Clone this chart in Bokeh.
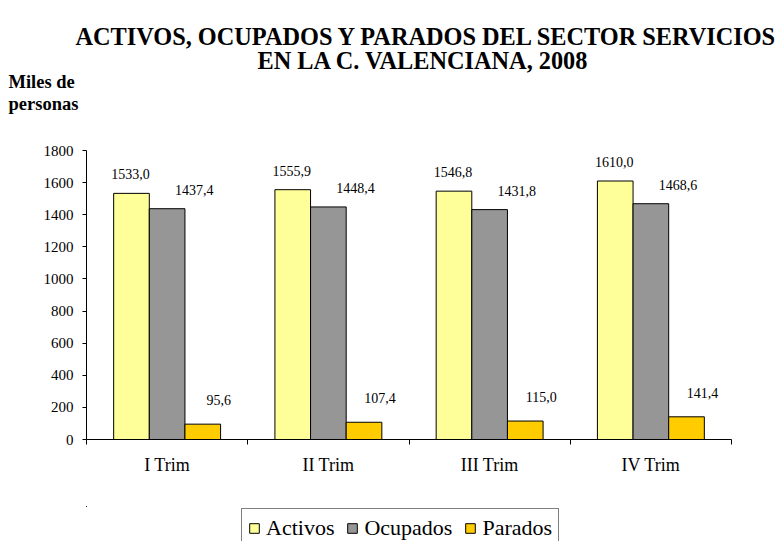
from bokeh.plotting import figure
from bokeh.layouts import column
from bokeh.models import (ColumnDataSource, Range1d, FixedTicker, Legend, LegendItem, Title)
from bokeh.transform import dodge
from bokeh.core.properties import value
from bokeh.embed import file_html
from bokeh.resources import INLINE

categories = ["I Trim", "II Trim", "III Trim", "IV Trim"]
activos = [1533.0, 1555.9, 1546.8, 1610.0]
ocupados = [1437.4, 1448.4, 1431.8, 1468.6]
parados = [95.6, 107.4, 115.0, 141.4]
series_names = ["Activos", "Ocupados", "Parados"]
y_ticks = [0, 200, 400, 600, 800, 1000, 1200, 1400, 1600, 1800]
title_lines = ["ACTIVOS, OCUPADOS Y PARADOS DEL SECTOR  SERVICIOS", "EN LA C. VALENCIANA, 2008"]
unit_lines = ["Miles de", "personas"]

FONT = "Liberation Serif"
colors = ["#FFFF99", "#969696", "#FFCC00"]
W = 780
H_HEAD, H_MAIN, H_LEG = 120, 386, 35
BL, BR = 86, 49

def fmt(v):
    return f"{v:.1f}".replace(".", ",")

def blank_fig(h, x0=0, y0=0, **kw):
    f = figure(width=W, height=h, output_backend="svg", toolbar_location=None,
               x_range=Range1d(x0, x0 + W), y_range=Range1d(y0, y0 + h),
               x_axis_location=None, y_axis_location=None,
               min_border_left=BL, min_border_right=BR, **kw)
    f.outline_line_color = None
    f.xgrid.visible = False
    f.ygrid.visible = False
    return f

# ---------- header: titles stacked upward from its frame ----------
head = blank_fig(H_HEAD, min_border_top=113, min_border_bottom=0)
head_titles = [
    (unit_lines[1], -78, 0, "18.5px"),
    (unit_lines[0], -78, 0, "18.5px"),
    (title_lines[1], 171, -8, "24.3px"),
    (title_lines[0], -11, -2, "24.3px"),
]
for txt, off, so, fs in head_titles:
    head.add_layout(Title(text=txt, align="left", offset=off, standoff=so,
                          text_font=FONT, text_font_size=fs, text_font_style="bold",
                          text_color="black"), "above")

# ---------- main chart ----------
xc = [i + 0.5 for i in range(len(categories))]
src = ColumnDataSource(dict(
    x=xc, activos=activos, ocupados=ocupados, parados=parados,
    la=[fmt(v) for v in activos], lo=[fmt(v) for v in ocupados], lp=[fmt(v) for v in parados],
))

p = figure(width=W, height=H_MAIN, output_backend="svg", toolbar_location=None,
           x_range=Range1d(0, 4), y_range=Range1d(0, 1800),
           min_border_left=BL, min_border_right=BR, min_border_top=30, min_border_bottom=67)
p.outline_line_color = None
p.xgrid.visible = False
p.ygrid.visible = False

bw = 0.221
fields = ["activos", "ocupados", "parados"]
lbls = ["la", "lo", "lp"]
offs = [-bw, 0, bw]
xoffs = [-1, 27, 16]
yoffs = [-19, -19, -24]
for f, lb, off, c, xo, yo in zip(fields, lbls, offs, colors, xoffs, yoffs):
    p.vbar(x=dodge("x", off, range=p.x_range), top=f, width=bw, source=src,
           fill_color=c, line_color="black", line_width=1)
    p.text(x=dodge("x", off, range=p.x_range), y=f, text=lb, source=src,
           x_offset=xo, y_offset=yo, text_align="center", text_baseline="middle",
           text_font=value(FONT), text_font_size="14px", text_color="black")

p.yaxis.ticker = FixedTicker(ticks=y_ticks)
p.yaxis.major_tick_out = 4
p.yaxis.major_tick_in = 0
p.yaxis.minor_tick_out = 0
p.yaxis.minor_tick_in = 0
p.yaxis.major_label_text_font = FONT
p.yaxis.major_label_text_font_size = "15px"
p.yaxis.major_label_text_color = "black"
p.yaxis.axis_line_color = "black"
p.yaxis.major_tick_line_color = "black"
p.yaxis.major_label_standoff = 9

p.xaxis.ticker = FixedTicker(ticks=xc, minor_ticks=[0, 1, 2, 3, 4])
p.xaxis.major_label_overrides = {x: c for x, c in zip(xc, categories)}
p.xaxis.major_tick_out = 0
p.xaxis.major_tick_in = 0
p.xaxis.minor_tick_out = 5
p.xaxis.minor_tick_in = 0
p.xaxis.minor_tick_line_color = "black"
p.xaxis.axis_line_color = "black"
p.xaxis.major_label_text_font = FONT
p.xaxis.major_label_text_font_size = "18px"
p.xaxis.major_label_text_color = "black"
p.xaxis.major_label_standoff = 10

# ---------- legend strip (its bars lie far outside its visible ranges) ----------
leg = blank_fig(H_LEG, x0=1000, y0=-5000, min_border_top=0, min_border_bottom=0)
leg_src = ColumnDataSource(dict(x=xc, activos=activos, ocupados=ocupados, parados=parados))
leg_renderers = [leg.vbar(x="x", top=f, width=1, source=leg_src, fill_color=c,
                          line_color="black", line_width=1)
                 for f, c in zip(fields, colors)]
legend = Legend(items=[LegendItem(label=n, renderers=[r]) for n, r in zip(series_names, leg_renderers)],
                orientation="horizontal", location=(155, -7))
legend.label_text_font = FONT
legend.label_text_font_size = "22px"
legend.label_text_color = "black"
legend.border_line_color = "black"
legend.border_line_width = 1
legend.glyph_width = 12
legend.glyph_height = 12
legend.spacing = 12
legend.padding = 6
legend.margin = 0
legend.label_standoff = 6
legend.background_fill_alpha = 1
leg.add_layout(legend, "center")

layout = column(head, p, leg, spacing=0)
open("out.html", "w").write(file_html(layout, INLINE))
